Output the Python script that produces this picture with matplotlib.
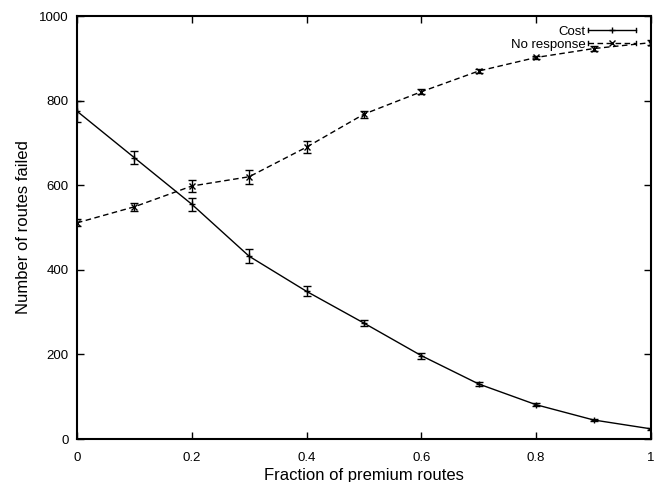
import numpy as np
import matplotlib
matplotlib.use("Agg")
import matplotlib.pyplot as plt
from matplotlib.container import ErrorbarContainer
from matplotlib.legend_handler import HandlerBase
from matplotlib.lines import Line2D

plt.rcParams['font.family'] = ['Liberation Sans', 'DejaVu Sans']

fraction = [0.0, 0.1, 0.2, 0.3, 0.4, 0.5, 0.6, 0.7, 0.8, 0.9, 1.0]
cost = [775, 665, 555, 432, 349, 274, 197, 130, 81, 45, 24]
cost_err = [25, 15, 15, 17, 12, 8, 7, 5, 4, 3, 2]
no_response = [511, 549, 598, 620, 690, 768, 821, 870, 902, 923, 937]
no_response_err = [8, 10, 14, 16, 14, 8, 6, 5, 4, 6, 6]

x_ticks = [0, 0.2, 0.4, 0.6, 0.8, 1]
x_tick_labels = ["0", "0.2", "0.4", "0.6", "0.8", "1"]
y_ticks = [0, 200, 400, 600, 800, 1000]


class HandlerCapped(HandlerBase):
    # gnuplot-like key sample: horizontal line with end caps and a point in the middle
    def create_artists(self, legend, orig_handle, xdescent, ydescent,
                       width, height, fontsize, trans):
        data_line = orig_handle[0]
        x0, x1 = -xdescent, -xdescent + width
        y = (height - ydescent) / 2
        cap = height * 0.25
        style = dict(color=data_line.get_color(), lw=data_line.get_linewidth(),
                     transform=trans)
        body = Line2D([x0, x1], [y, y], ls=data_line.get_linestyle(), **style)
        if data_line.get_linestyle() != '-':
            body.set_dashes((4, 2.5))
        left = Line2D([x0, x0], [y - cap, y + cap], **style)
        right = Line2D([x1, x1], [y - cap, y + cap], **style)
        mid = Line2D([(x0 + x1) / 2], [y], ls='none', marker=data_line.get_marker(),
                     ms=data_line.get_markersize(), mec=data_line.get_color(),
                     transform=trans)
        return [body, left, right, mid]


fig = plt.figure(figsize=(6.7, 4.82), dpi=100)
ax = fig.add_axes([0.1149, 0.0892, 0.8567, 0.8776])

ax.errorbar(fraction, cost, yerr=cost_err, color='black', lw=1.0,
            marker='+', ms=4, capsize=3, elinewidth=1.0, label='Cost')
ax.errorbar(fraction, no_response, yerr=no_response_err, color='black', lw=1.0,
            ls=(0, (4, 2.5)), marker='x', ms=5, capsize=3, elinewidth=1.0,
            label='No response')

ax.set_xlim(0, 1)
ax.set_ylim(0, 1000)
ax.set_xticks(x_ticks)
ax.set_xticklabels(x_tick_labels)
ax.set_yticks(y_ticks)
ax.tick_params(direction='in', top=True, right=True, length=5, width=1,
               labelsize=9.5, pad=6)
ax.tick_params(axis='x', pad=9)
for s in ax.spines.values():
    s.set_linewidth(1.5)

ax.set_xlabel("Fraction of premium routes", fontsize=12, labelpad=3)
ax.set_ylabel("Number of routes failed", fontsize=12, labelpad=6)

ax.legend(loc='upper right', bbox_to_anchor=(0.978, 0.984), frameon=False,
          markerfirst=False, fontsize=9.5,
          handlelength=3.6, handletextpad=0.2, labelspacing=0.05,
          borderaxespad=0, borderpad=0.2,
          handler_map={ErrorbarContainer: HandlerCapped()})

fig.savefig("out.png", dpi=100)
